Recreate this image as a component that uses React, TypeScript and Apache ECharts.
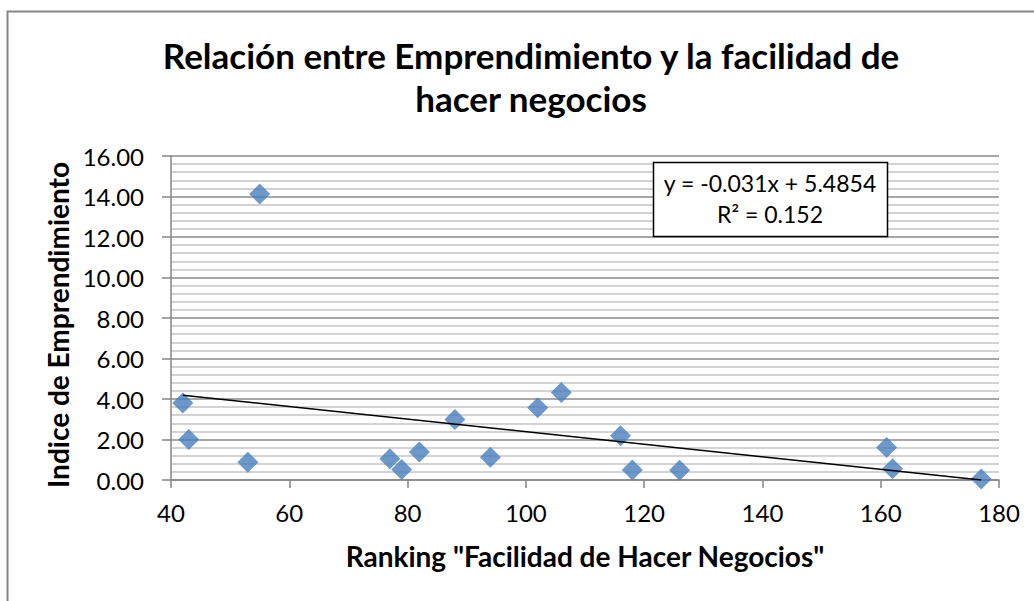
import React, { useEffect, useRef } from "react";
import * as echarts from "echarts";

const titleLines = ["Relación entre Emprendimiento y la facilidad de", "hacer negocios"];
const xAxisTitle = 'Ranking "Facilidad de Hacer Negocios"';
const yAxisTitle = "Indice de Emprendimiento";

const ranking = [42, 43, 53, 55, 77, 79, 82, 88, 94, 102, 106, 116, 118, 126, 161, 162, 177];
const indice = [3.8, 2.0, 0.88, 14.12, 1.05, 0.52, 1.38, 2.99, 1.12, 3.57, 4.32, 2.18, 0.5, 0.48, 1.6, 0.56, 0.05];

const trendSlope = -0.031;
const trendIntercept = 5.4854;
const equationLines = ["y = -0.031x + 5.4854", "R² = 0.152"];

const xMin = 40, xMax = 180, xStep = 20;
const yMin = 0, yMax = 16, yStep = 2;

const FONT = "Lato";

export default function App() {
  const ref = useRef<HTMLDivElement>(null);
  useEffect(() => {
    if (!ref.current) return;
    const chart = echarts.init(ref.current, undefined, { renderer: "svg" });
    const points = ranking.map((x, i) => [x, indice[i]]);
    const lo = Math.min(...ranking);
    const hi = Math.max(...ranking);
    const trend = [lo, hi].map((x) => [x, trendSlope * x + trendIntercept]);

    chart.setOption({
      animation: false,
      backgroundColor: "#ffffff",
      textStyle: { fontFamily: FONT },
      title: {
        text: titleLines.join("\n"),
        left: 526,
        top: 28,
        textAlign: "center",
        textStyle: { fontFamily: FONT, fontSize: 35, fontWeight: "bold", color: "#000", lineHeight: 43 },
      },
      grid: { left: 171, top: 156, right: 35, bottom: 121, containLabel: false },
      xAxis: {
        type: "value",
        min: xMin,
        max: xMax,
        interval: xStep,
        name: xAxisTitle,
        nameLocation: "middle",
        nameGap: 62,
        nameTextStyle: { fontFamily: FONT, fontSize: 28, fontWeight: "bold", color: "#000" },
        axisLine: { show: true, onZero: false, lineStyle: { color: "#868686", width: 1.5 } },
        axisTick: { show: true, inside: false, length: 8, lineStyle: { color: "#868686", width: 1.5 } },
        axisLabel: { margin: 20, fontSize: 24, color: "#000", fontFamily: FONT },
        splitLine: { show: false },
      },
      yAxis: {
        type: "value",
        min: yMin,
        max: yMax,
        interval: yStep,
        name: yAxisTitle,
        nameLocation: "middle",
        nameGap: 95,
        nameRotate: 90,
        nameTextStyle: { fontFamily: FONT, fontSize: 28, fontWeight: "bold", color: "#000", padding: [0, 14, 0, 0] },
        axisLine: { show: true, onZero: false, lineStyle: { color: "#868686", width: 1.5 } },
        axisTick: { show: true, inside: false, length: 9, lineStyle: { color: "#868686", width: 1.5 } },
        axisLabel: {
          margin: 27,
          fontSize: 24,
          color: "#000",
          fontFamily: FONT,
          formatter: (v: number) => v.toFixed(2),
        },
        splitLine: { show: true, lineStyle: { color: "#8a8a8a", width: 1.5 } },
        minorTick: { show: false, splitNumber: 5 },
        minorSplitLine: { show: true, lineStyle: { color: "#c4c4c4", width: 1.5 } },
      },
      series: [
        {
          type: "scatter",
          data: points,
          symbol: "diamond",
          symbolSize: 21,
          itemStyle: { color: "#4a7ebb" },
          z: 2,
        },
        {
          type: "line",
          data: trend,
          showSymbol: false,
          symbol: "none",
          lineStyle: { color: "#000", width: 1.5 },
          z: 3,
          silent: true,
        },
      ],
      graphic: [
        {
          type: "rect",
          shape: { x: 7.5, y: 11.5, width: 1100, height: 700 },
          style: { fill: "none", stroke: "#868686", lineWidth: 2 },
          silent: true,
          z: 100,
        },
        {
          type: "rect",
          shape: { x: 653.5, y: 162.5, width: 234, height: 74 },
          style: { fill: "#ffffff", stroke: "#000", lineWidth: 1.5 },
          z: 100,
        },
        {
          type: "text",
          x: 770,
          y: 183,
          style: { text: equationLines[0], fontFamily: FONT, fontSize: 23, fill: "#000", align: "center", verticalAlign: "middle" },
          z: 101,
        },
        {
          type: "text",
          x: 770,
          y: 214,
          style: { text: equationLines[1], fontFamily: FONT, fontSize: 23, fill: "#000", align: "center", verticalAlign: "middle" },
          z: 101,
        },
      ],
    });
    return () => chart.dispose();
  }, []);
  return <div ref={ref} style={{ position: "fixed", left: 0, top: 0, width: 1034, height: 601 }} />;
}
